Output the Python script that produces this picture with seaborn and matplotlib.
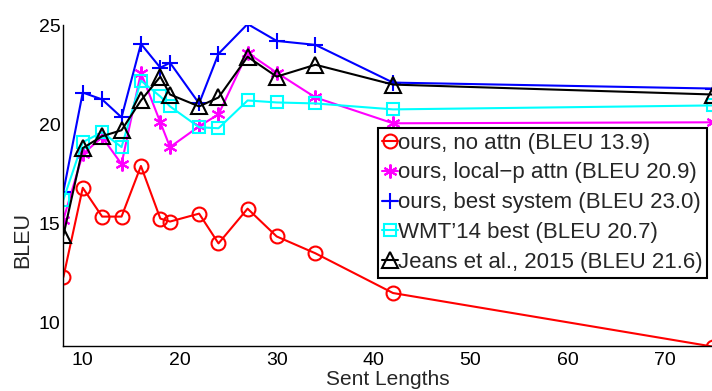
import pandas as pd
import matplotlib.pyplot as plt
import seaborn as sns

# Datos
sent_lengths = [8, 10, 12, 14, 16, 18, 19, 22, 24, 27, 30, 34, 42, 75]

no_attn = [12.3, 16.8, 15.35, 15.35, 17.9, 15.25, 15.1, 15.5, 14.0, 15.75, 14.35, 13.5, 11.5, 8.8]
local_p = [15.2, 18.5, 19.35, 18.0, 22.6, 20.1, 18.85, 19.9, 20.5, 23.6, 22.6, 21.35, 20.05, 20.1]
best_system = [16.6, 21.6, 21.25, 20.35, 24.05, 22.85, 23.1, 21.05, 23.55, 25.05, 24.2, 24.0, 22.1, 21.8]
wmt14 = [16.2, 19.1, 19.6, 18.85, 22.2, 21.4, 20.9, 19.85, 19.8, 21.2, 21.1, 21.05, 20.75, 20.95]
jeans = [14.4, 18.8, 19.4, 19.7, 21.2, 22.4, 21.5, 20.9, 21.35, 23.4, 22.4, 23.0, 22.0, 21.5]

labels = ['ours, no attn (BLEU 13.9)',
          'ours, local\u2212p attn (BLEU 20.9)',
          'ours, best system (BLEU 23.0)',
          "WMT\u201914 best (BLEU 20.7)",
          'Jeans et al., 2015 (BLEU 21.6)']
series = [no_attn, local_p, best_system, wmt14, jeans]

colors = ['#ff0000', '#ff00ff', '#0000ff', '#00ffff', '#000000']
markers = ['o', (6, 2, 0), '+', 's', '^']
msizes = [10, 10, 12, 9, 12]
filled = [False, True, True, False, False]

sns.set_style('white')
plt.rcParams['font.family'] = ['Liberation Sans', 'DejaVu Sans']

fig = plt.figure(figsize=(7.12, 3.91), dpi=100)
ax = fig.add_axes([0.089, 0.115, 0.911, 0.821])

for vals, lab, c, m, ms, f in zip(series, labels, colors, markers, msizes, filled):
    df = pd.DataFrame({'len': sent_lengths, 'bleu': vals})
    sns.lineplot(data=df, x='len', y='bleu', ax=ax, color=c, linewidth=1.5,
                 marker=m, markersize=ms, markeredgecolor=c,
                 markerfacecolor=(c if f else 'none'), markeredgewidth=1.5,
                 label=lab)

ax.set_xlim(8, 74.9)
ax.set_ylim(8.83, 25)
ax.set_xticks([10, 20, 30, 40, 50, 60, 70])
ax.set_yticks([10, 15, 20, 25])
ax.tick_params(direction='in', length=4, width=1, labelsize=14, colors='black')
ax.tick_params(axis='x', pad=4)
ax.tick_params(axis='y', pad=2)
sns.despine(ax=ax)
for s in ['left', 'bottom']:
    ax.spines[s].set_color('black')
    ax.spines[s].set_linewidth(1)

ax.set_xlabel('Sent Lengths', fontsize=15)
ax.set_ylabel('BLEU', fontsize=15.5)
ax.xaxis.set_label_coords(0.5, -0.076)
ax.yaxis.set_label_coords(-0.047, 0.33)

leg = ax.legend(loc='upper left', bbox_to_anchor=(0.485, 0.679), fontsize=16,
                handlelength=0.7, handletextpad=0.0, borderpad=0.2,
                labelspacing=0.4, borderaxespad=0, frameon=True, fancybox=False)
leg.get_frame().set_edgecolor('black')
leg.get_frame().set_linewidth(1.5)
leg.get_frame().set_alpha(1)

plt.savefig('out.png', dpi=100)
plt.close()
